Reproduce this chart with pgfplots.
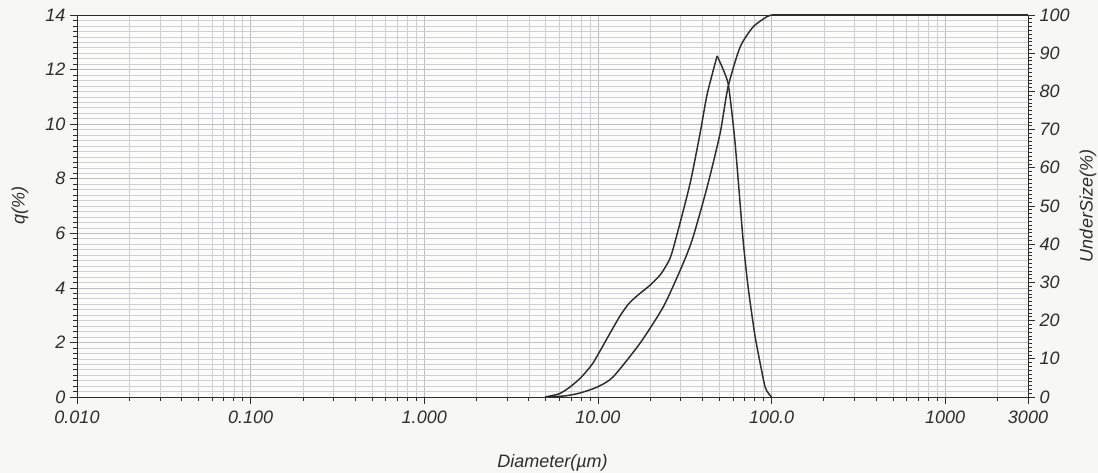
\documentclass[border=0pt]{standalone}
\usepackage{pgfplots}
\usepackage{pgfplotstable}
\pgfplotsset{compat=1.18}
\usepackage{fontspec}
\setmainfont{Liberation Sans}
\newlength\pu \setlength\pu{0.75pt}
\definecolor{ink}{RGB}{45,45,45}
\definecolor{gridc}{RGB}{190,190,198}
\definecolor{bgc}{RGB}{247,247,245}

\pgfplotstableread{
d q
4.97 0
6.0 0.12
6.92 0.37
8.0 0.72
9.38 1.25
11.75 2.34
13.5 3.0
15.2 3.45
17.5 3.8
20.0 4.1
23.0 4.5
26.1 5.1
29.0 6.12
34.0 7.84
38.8 9.67
42.6 11.1
48.6 12.5
}\qrise

\pgfplotstableread{
d q
48.6 12.5
56.2 11.5
61.7 9.3
68.6 5.75
73.3 4.03
80.5 2.2
91.8 0.37
100 0
}\qfall

\pgfplotstableread{
d u
4.97 0
6.5 0.3
7.89 1.05
9.9 2.6
12.2 5.2
17.5 14.1
23.8 23.6
29.8 33.2
34.9 41.1
42.6 55
50.6 69.1
56.2 81.2
65.9 91.6
78.4 96.9
94.4 99.6
101 100
}\udata

\pgfplotstableread{
d u
101 100
3000 100
}\uflat

\begin{document}
\begin{tikzpicture}
\useasboundingbox (-77\pu,-76\pu) rectangle (1021\pu,397\pu);
\fill[bgc] (-77\pu,-76\pu) rectangle (1021\pu,397\pu);
\begin{axis}[
  scale only axis, width=951\pu, height=382\pu,
  at={(0,0)}, anchor=south west,
  xmode=log, xmin=0.01, xmax=3000, ymin=0, ymax=14,
  xtick={0.01,0.1,1,10,100,1000,3000},
  xticklabels={0.010,0.100,1.000,10.00,100.0,1000,3000},
  minor xtick={0.02,0.03,0.04,0.05,0.06,0.07,0.08,0.09,
    0.2,0.3,0.4,0.5,0.6,0.7,0.8,0.9,
    2,3,4,5,6,7,8,9,20,30,40,50,60,70,80,90,
    200,300,400,500,600,700,800,900,2000},
  ytick={0,2,...,14}, minor y tick num=9,
  tick pos=left, tick align=outside,
  major tick length=7\pu, minor tick length=4\pu,
  grid=both,
  major grid style={gridc, line width=0.5pt},
  minor grid style={gridc!75, line width=0.4pt},
  axis line style={ink, line width=0.6pt},
  tick style={ink, line width=0.5pt},
  /pgf/number format/assume math mode=true,
  tick label style={font=\fontsize{13.5}{15}\selectfont\itshape, text=ink},
  xticklabel style={yshift=-2\pu},
  xlabel={Diameter(µm)},
  ylabel={q(\%)},
  label style={font=\fontsize{13.5}{15}\selectfont\itshape, text=ink},
  xlabel style={at={(axis description cs:0.5,-0.173)}, anchor=center},
  ylabel style={at={(axis description cs:-0.06,0.5)}, anchor=center, rotate=0},
  axis background/.style={fill=white!60!bgc},
]
\addplot[ink, line width=1.1pt, line join=round, smooth, tension=0.4] table[x=d, y=q] {\qrise};
\addplot[ink, line width=1.1pt, line join=round, smooth, tension=0.3] table[x=d, y=q] {\qfall};
\end{axis}
\begin{axis}[
  scale only axis, width=951\pu, height=382\pu,
  at={(0,0)}, anchor=south west,
  xmode=log, xmin=0.01, xmax=3000, ymin=0, ymax=100,
  axis x line=none, axis y line*=right,
  ytick={0,10,...,100}, minor y tick num=9,
  tick align=outside,
  major tick length=7\pu, minor tick length=4\pu,
  axis line style={ink, line width=0.6pt},
  tick style={ink, line width=0.5pt},
  /pgf/number format/assume math mode=true,
  tick label style={font=\fontsize{13.5}{15}\selectfont\itshape, text=ink},
  ylabel={UnderSize(\%)},
  label style={font=\fontsize{13.5}{15}\selectfont\itshape, text=ink},
  ylabel style={at={(axis description cs:1.063,0.5)}, anchor=center, rotate=0},
]
\addplot[ink, line width=1.1pt, line join=round, smooth, tension=0.4] table[x=d, y=u] {\udata};
\addplot[ink, line width=1.1pt] table[x=d, y=u] {\uflat};
\end{axis}
\end{tikzpicture}
\end{document}
